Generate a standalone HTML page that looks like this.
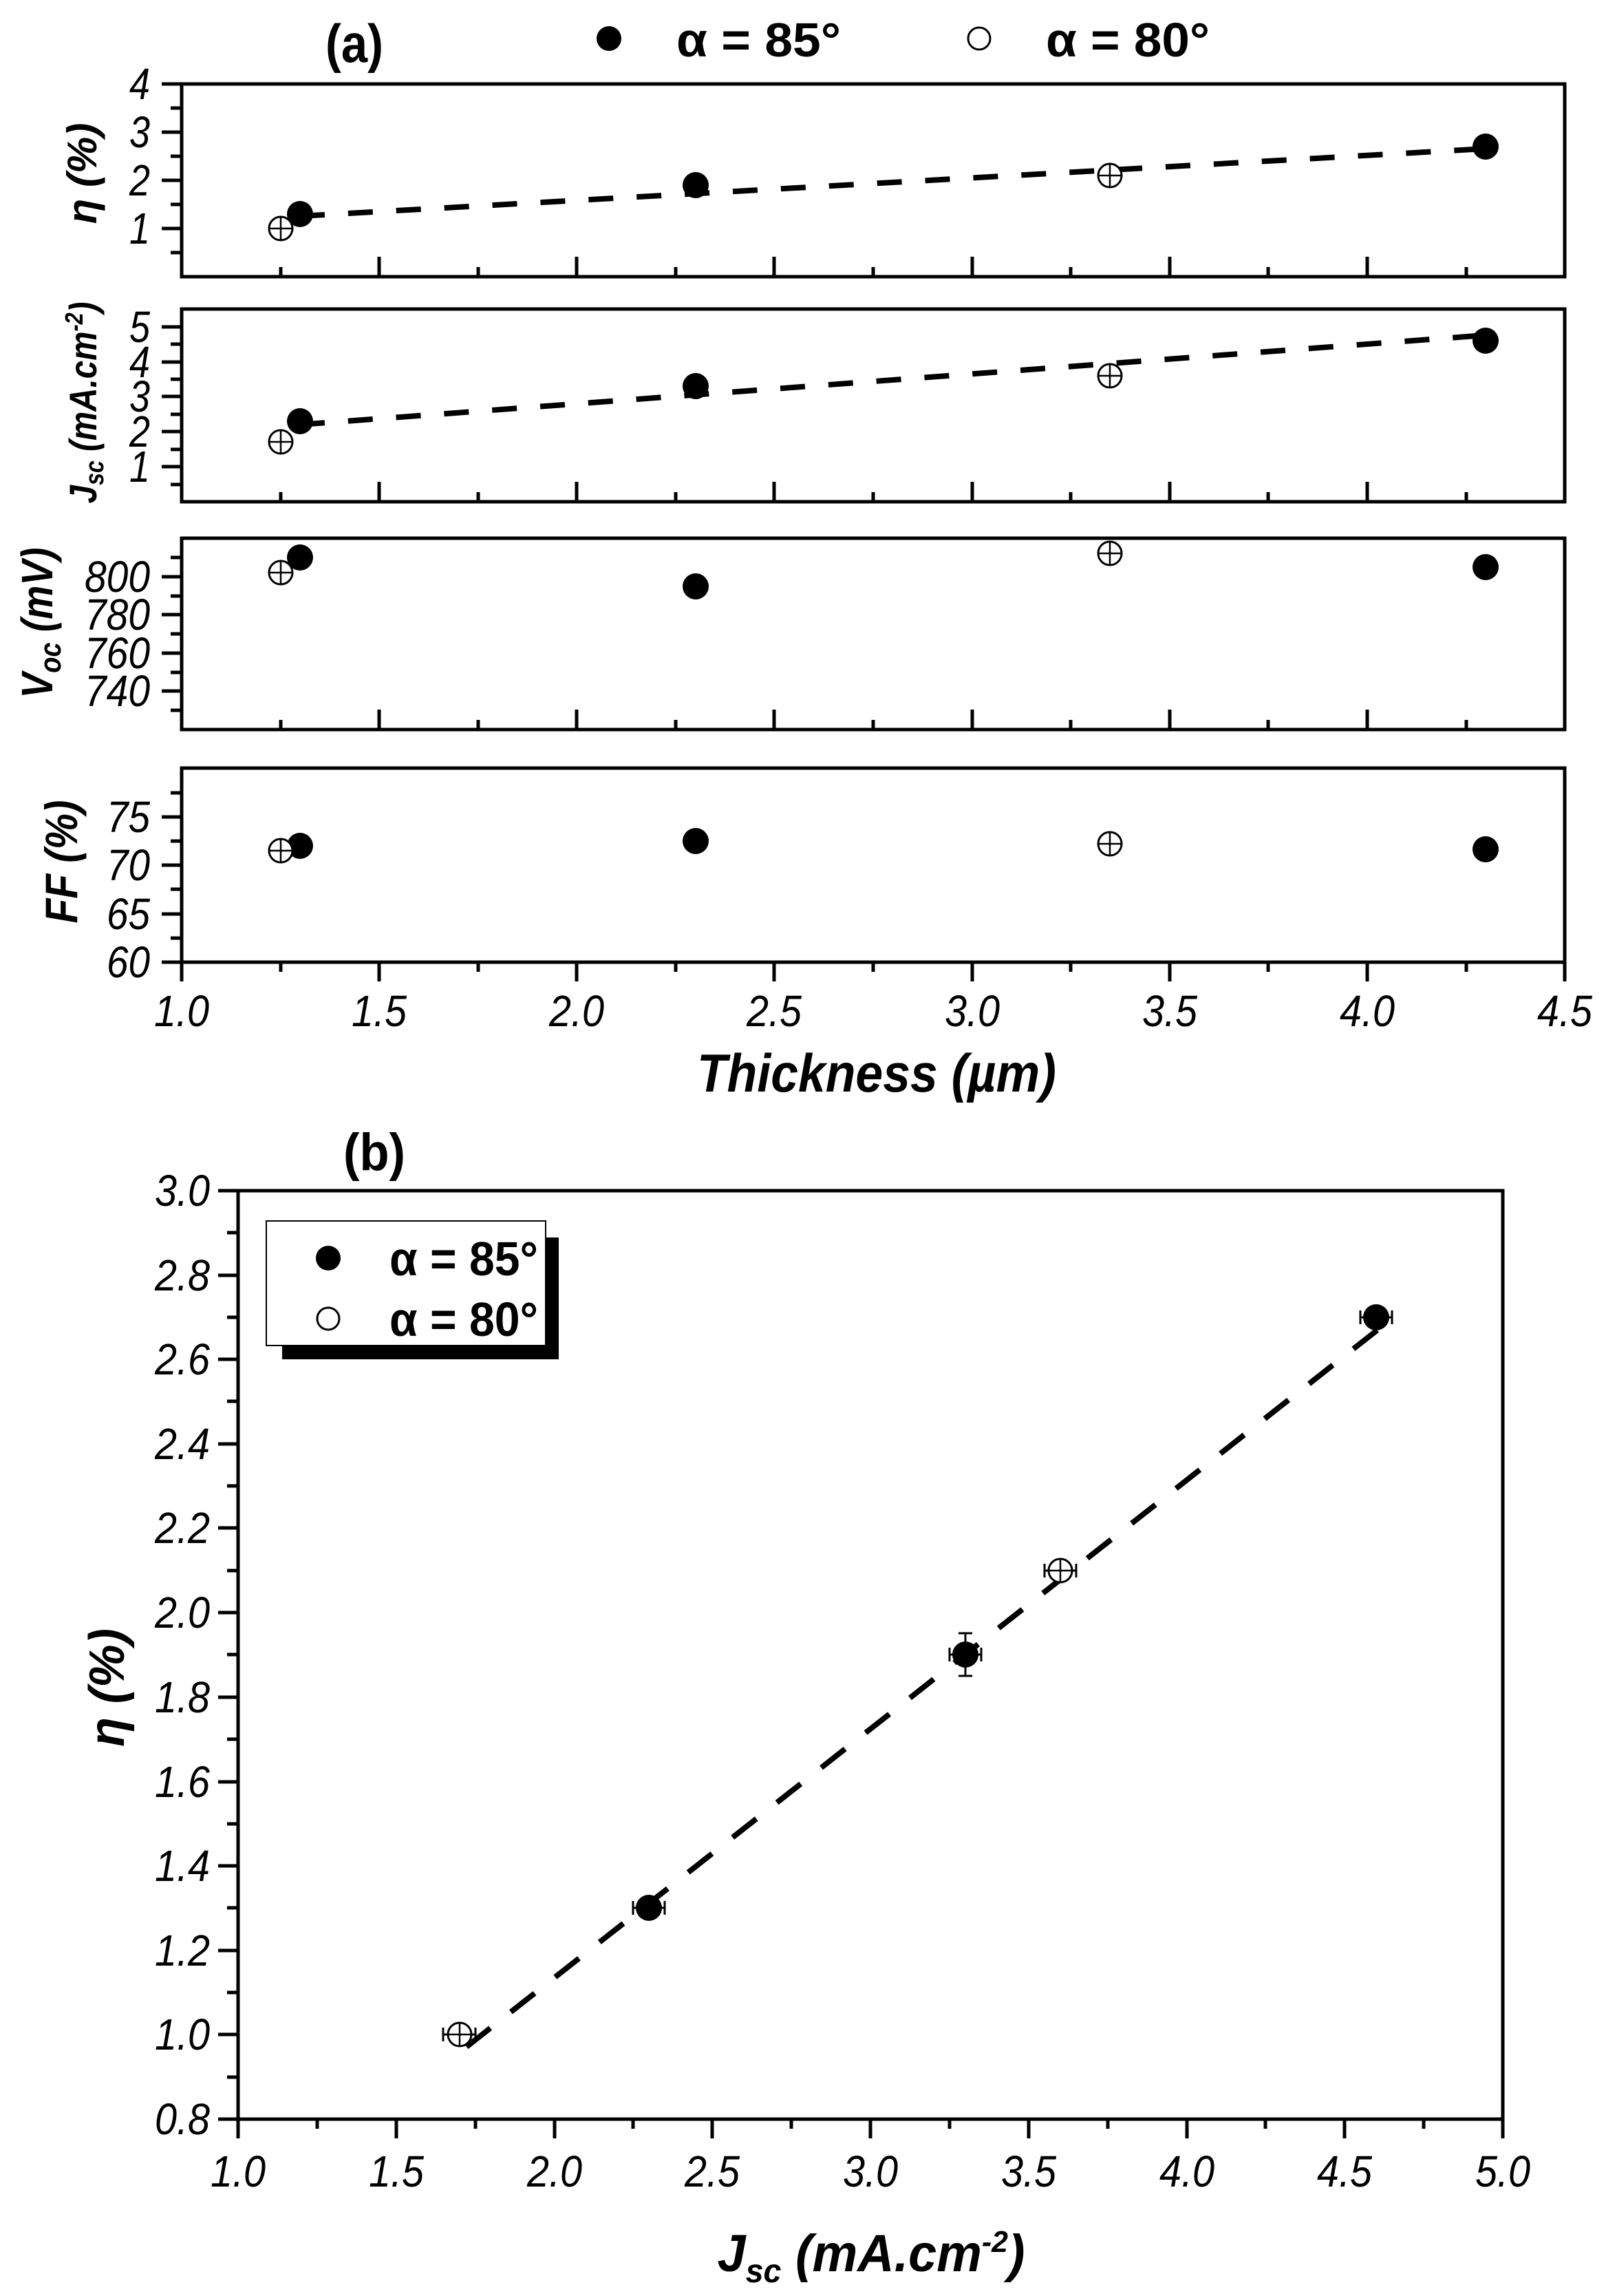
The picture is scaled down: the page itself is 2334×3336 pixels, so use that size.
<!DOCTYPE html>
<html><head><meta charset="utf-8"><style>
html,body{margin:0;padding:0;background:#fff}
svg{display:block}
text{font-family:"Liberation Sans",Arial,sans-serif;fill:#000}
.t{font-size:64px;font-style:italic}
.b{font-weight:bold}
</style></head><body>
<svg width="2334" height="3336" viewBox="0 0 2334 3336" xmlns="http://www.w3.org/2000/svg">
<rect width="2334" height="3336" fill="#fff"/>
<defs>
<g id="op"><circle r="17" fill="#fff" stroke="#000" stroke-width="3"/><line x1="-17" y1="0" x2="17" y2="0" stroke="#000" stroke-width="2.5"/><line x1="0" y1="-17" x2="0" y2="17" stroke="#000" stroke-width="2.5"/></g>
</defs>

<!-- header (a) -->
<text x="473" y="90" class="b" font-size="78" textLength="84" lengthAdjust="spacingAndGlyphs">(a)</text>
<circle cx="885" cy="56" r="18" fill="#000"/>
<text x="983" y="82" class="b" font-size="70" textLength="239" lengthAdjust="spacingAndGlyphs">α = 85°</text>
<circle cx="1423" cy="56" r="16" fill="#fff" stroke="#000" stroke-width="3"/>
<text x="1520" y="82" class="b" font-size="70" textLength="238" lengthAdjust="spacingAndGlyphs">α = 80°</text>

<g stroke="#000" fill="none" stroke-width="5">
<rect x="264" y="122" width="2010" height="280"/>
<rect x="264" y="449" width="2010" height="280"/>
<rect x="264" y="782" width="2010" height="278"/>
<rect x="264" y="1116" width="2010" height="282"/>
</g>

<g stroke="#000" stroke-width="5">
<path d="M408 402v-14M551 402v-29M695 402v-14M838 402v-29M982 402v-14M1125 402v-29M1269 402v-14M1413 402v-29M1556 402v-14M1700 402v-29M1843 402v-14M1987 402v-29M2131 402v-14"/>
<path d="M408 729v-14M551 729v-29M695 729v-14M838 729v-29M982 729v-14M1125 729v-29M1269 729v-14M1413 729v-29M1556 729v-14M1700 729v-29M1843 729v-14M1987 729v-29M2131 729v-14"/>
<path d="M408 1060v-14M551 1060v-29M695 1060v-14M838 1060v-29M982 1060v-14M1125 1060v-29M1269 1060v-14M1413 1060v-29M1556 1060v-14M1700 1060v-29M1843 1060v-14M1987 1060v-29M2131 1060v-14"/>
<path d="M264 1398v28M408 1398v14M551 1398v28M695 1398v14M838 1398v28M982 1398v14M1125 1398v28M1269 1398v14M1413 1398v28M1556 1398v14M1700 1398v28M1843 1398v14M1987 1398v28M2131 1398v14M2274 1398v28"/>
<path d="M264 122h-29M264 192h-29M264 262h-29M264 332h-29M264 157h-16M264 227h-16M264 297h-16M264 367h-16"/>
<path d="M264 475h-29M264 526h-29M264 576h-29M264 627h-29M264 678h-29M264 500h-16M264 551h-16M264 602h-16M264 653h-16M264 704h-16"/>
<path d="M264 838h-29M264 893h-29M264 949h-29M264 1004h-29M264 810h-16M264 866h-16M264 921h-16M264 977h-16M264 1032h-16"/>
<path d="M264 1187h-29M264 1257h-29M264 1328h-29M264 1398h-29M264 1152h-16M264 1222h-16M264 1292h-16M264 1363h-16"/>
</g>

<g class="t" text-anchor="end">
<text x="218" y="144" textLength="30" lengthAdjust="spacingAndGlyphs">4</text><text x="218" y="214" textLength="30" lengthAdjust="spacingAndGlyphs">3</text><text x="218" y="284" textLength="30" lengthAdjust="spacingAndGlyphs">2</text><text x="218" y="354" textLength="30" lengthAdjust="spacingAndGlyphs">1</text>
<text x="218" y="497" textLength="30" lengthAdjust="spacingAndGlyphs">5</text><text x="218" y="548" textLength="30" lengthAdjust="spacingAndGlyphs">4</text><text x="218" y="598" textLength="30" lengthAdjust="spacingAndGlyphs">3</text><text x="218" y="649" textLength="30" lengthAdjust="spacingAndGlyphs">2</text><text x="218" y="700" textLength="30" lengthAdjust="spacingAndGlyphs">1</text>
<text x="218" y="860" textLength="95" lengthAdjust="spacingAndGlyphs">800</text>
<text x="218" y="915" textLength="95" lengthAdjust="spacingAndGlyphs">780</text>
<text x="218" y="971" textLength="95" lengthAdjust="spacingAndGlyphs">760</text>
<text x="218" y="1026" textLength="95" lengthAdjust="spacingAndGlyphs">740</text>
<text x="218" y="1209" textLength="63" lengthAdjust="spacingAndGlyphs">75</text>
<text x="218" y="1279" textLength="63" lengthAdjust="spacingAndGlyphs">70</text>
<text x="218" y="1350" textLength="63" lengthAdjust="spacingAndGlyphs">65</text>
<text x="218" y="1420" textLength="63" lengthAdjust="spacingAndGlyphs">60</text>
</g>
<g class="t" text-anchor="middle">
<text x="264" y="1491" textLength="80" lengthAdjust="spacingAndGlyphs">1.0</text><text x="551" y="1491" textLength="80" lengthAdjust="spacingAndGlyphs">1.5</text><text x="838" y="1491" textLength="80" lengthAdjust="spacingAndGlyphs">2.0</text><text x="1125" y="1491" textLength="80" lengthAdjust="spacingAndGlyphs">2.5</text><text x="1413" y="1491" textLength="80" lengthAdjust="spacingAndGlyphs">3.0</text><text x="1700" y="1491" textLength="80" lengthAdjust="spacingAndGlyphs">3.5</text><text x="1987" y="1491" textLength="80" lengthAdjust="spacingAndGlyphs">4.0</text><text x="2274" y="1491" textLength="80" lengthAdjust="spacingAndGlyphs">4.5</text>
</g>
<text x="1274" y="1586" text-anchor="middle" class="b" font-style="italic" font-size="78" textLength="522" lengthAdjust="spacingAndGlyphs">Thickness (µm)</text>

<text transform="translate(140,252) rotate(-90)" text-anchor="middle" class="b" font-style="italic" font-size="60">η (%)</text>
<text transform="translate(140,585) rotate(-90)" text-anchor="middle" class="b" font-style="italic" font-size="56" textLength="293" lengthAdjust="spacingAndGlyphs">J<tspan font-size="38" dy="10">sc</tspan><tspan dy="-10"> (mA.cm</tspan><tspan font-size="36" dy="-20">-2</tspan><tspan dy="20">)</tspan></text>
<text transform="translate(76,905) rotate(-90)" text-anchor="middle" class="b" font-style="italic" font-size="64" textLength="219" lengthAdjust="spacingAndGlyphs">V<tspan font-size="44" dy="12">oc</tspan><tspan dy="-12"> (mV)</tspan></text>
<text transform="translate(112,1252) rotate(-90)" text-anchor="middle" class="b" font-style="italic" font-size="66" textLength="179" lengthAdjust="spacingAndGlyphs">FF (%)</text>

<g stroke="#000" stroke-width="8" stroke-dasharray="36 34" fill="none">
<line x1="436" y1="314" x2="2159" y2="216"/>
<line x1="436" y1="617" x2="2159" y2="487"/>
</g>
<g fill="#000">
<circle cx="436" cy="311" r="19"/><circle cx="1011" cy="269" r="19"/><circle cx="2159" cy="213" r="19"/>
<circle cx="436" cy="612" r="19"/><circle cx="1011" cy="561" r="19"/><circle cx="2159" cy="495" r="19"/>
<circle cx="436" cy="810" r="19"/><circle cx="1011" cy="852" r="19"/><circle cx="2159" cy="824" r="19"/>
<circle cx="436" cy="1229" r="19"/><circle cx="1011" cy="1222" r="19"/><circle cx="2159" cy="1234" r="19"/>
</g>
<use href="#op" x="408" y="332"/><use href="#op" x="1613" y="255"/>
<use href="#op" x="408" y="642"/><use href="#op" x="1613" y="546"/>
<use href="#op" x="408" y="832"/><use href="#op" x="1613" y="804"/>
<use href="#op" x="408" y="1236"/><use href="#op" x="1613" y="1226"/>

<!-- panel (b) -->
<text x="499" y="1700" class="b" font-size="76" textLength="90" lengthAdjust="spacingAndGlyphs">(b)</text>
<rect x="346" y="1730" width="1838" height="1349" stroke="#000" stroke-width="5" fill="none"/>
<g stroke="#000" stroke-width="5">
<path d="M346 3079v28M461 3079v14M576 3079v28M691 3079v14M806 3079v28M920 3079v14M1035 3079v28M1150 3079v14M1265 3079v28M1380 3079v14M1495 3079v28M1610 3079v14M1725 3079v28M1839 3079v14M1954 3079v28M2069 3079v14M2184 3079v28"/>
<path d="M346 1730h-29M346 1853h-29M346 1975h-29M346 2098h-29M346 2220h-29M346 2343h-29M346 2466h-29M346 2589h-29M346 2711h-29M346 2834h-29M346 2956h-29M346 3079h-29"/>
<path d="M346 1791h-16M346 1914h-16M346 2036h-16M346 2159h-16M346 2282h-16M346 2404h-16M346 2527h-16M346 2650h-16M346 2772h-16M346 2895h-16M346 3018h-16"/>
</g>
<g class="t" text-anchor="end">
<text x="305" y="1752" textLength="80" lengthAdjust="spacingAndGlyphs">3.0</text>
<text x="305" y="1875" textLength="80" lengthAdjust="spacingAndGlyphs">2.8</text>
<text x="305" y="1997" textLength="80" lengthAdjust="spacingAndGlyphs">2.6</text>
<text x="305" y="2120" textLength="80" lengthAdjust="spacingAndGlyphs">2.4</text>
<text x="305" y="2242" textLength="80" lengthAdjust="spacingAndGlyphs">2.2</text>
<text x="305" y="2365" textLength="80" lengthAdjust="spacingAndGlyphs">2.0</text>
<text x="305" y="2488" textLength="80" lengthAdjust="spacingAndGlyphs">1.8</text>
<text x="305" y="2611" textLength="80" lengthAdjust="spacingAndGlyphs">1.6</text>
<text x="305" y="2733" textLength="80" lengthAdjust="spacingAndGlyphs">1.4</text>
<text x="305" y="2856" textLength="80" lengthAdjust="spacingAndGlyphs">1.2</text>
<text x="305" y="2978" textLength="80" lengthAdjust="spacingAndGlyphs">1.0</text>
<text x="305" y="3101" textLength="80" lengthAdjust="spacingAndGlyphs">0.8</text>
</g>
<g class="t" text-anchor="middle">
<text x="346" y="3177" textLength="80" lengthAdjust="spacingAndGlyphs">1.0</text><text x="576" y="3177" textLength="80" lengthAdjust="spacingAndGlyphs">1.5</text><text x="806" y="3177" textLength="80" lengthAdjust="spacingAndGlyphs">2.0</text><text x="1035" y="3177" textLength="80" lengthAdjust="spacingAndGlyphs">2.5</text><text x="1265" y="3177" textLength="80" lengthAdjust="spacingAndGlyphs">3.0</text><text x="1495" y="3177" textLength="80" lengthAdjust="spacingAndGlyphs">3.5</text><text x="1725" y="3177" textLength="80" lengthAdjust="spacingAndGlyphs">4.0</text><text x="1954" y="3177" textLength="80" lengthAdjust="spacingAndGlyphs">4.5</text><text x="2184" y="3177" textLength="80" lengthAdjust="spacingAndGlyphs">5.0</text>
</g>
<text transform="translate(180,2452) rotate(-90)" text-anchor="middle" class="b" font-style="italic" font-size="72" textLength="172" lengthAdjust="spacingAndGlyphs">η (%)</text>
<text x="1266" y="3300" text-anchor="middle" class="b" font-style="italic" font-size="76" textLength="447" lengthAdjust="spacingAndGlyphs">J<tspan font-size="48" dy="16">sc</tspan><tspan dy="-16"> (mA.cm</tspan><tspan font-size="44" dy="-28">-2</tspan><tspan dy="28">)</tspan></text>

<rect x="410" y="1798" width="402" height="177" fill="#000"/>
<rect x="387" y="1774" width="406" height="181" fill="#fff" stroke="#000" stroke-width="2"/>
<circle cx="477" cy="1828" r="18" fill="#000"/>
<text x="566" y="1853" class="b" font-size="70" textLength="216" lengthAdjust="spacingAndGlyphs">α = 85°</text>
<circle cx="477" cy="1916" r="16" fill="#fff" stroke="#000" stroke-width="3"/>
<text x="566" y="1941" class="b" font-size="70" textLength="216" lengthAdjust="spacingAndGlyphs">α = 80°</text>

<line x1="678" y1="2974" x2="2010" y2="1926" stroke="#000" stroke-width="8" stroke-dasharray="44 38"/>
<g stroke="#000" stroke-width="3" fill="none">
<path d="M644 2956h47M644 2946v20M691 2946v20"/>
<path d="M920 2772h46M920 2762v20M966 2762v20"/>
<path d="M1380 2404h46M1380 2394v20M1426 2394v20M1403 2373v62M1393 2373h20M1393 2435h20"/>
<path d="M1518 2282h46M1518 2272v20M1564 2272v20"/>
<path d="M1977 1914h46M1977 1904v20M2023 1904v20"/>
</g>
<circle cx="943" cy="2772" r="19" fill="#000"/>
<circle cx="1403" cy="2404" r="19" fill="#000"/>
<circle cx="2000" cy="1914" r="19" fill="#000"/>
<use href="#op" x="668" y="2956"/>
<use href="#op" x="1541" y="2282"/>
</svg>
</body></html>
